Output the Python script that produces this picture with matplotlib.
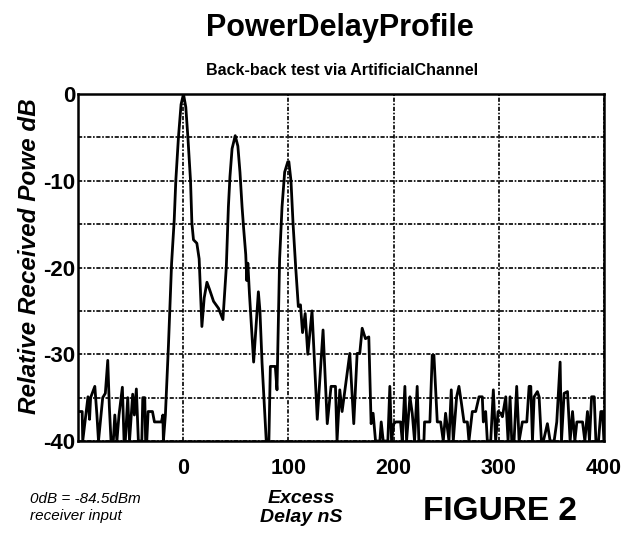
import matplotlib
matplotlib.use("Agg")
import matplotlib.pyplot as plt
from matplotlib.ticker import MultipleLocator

plt.rcParams['font.family'] = ['Liberation Sans', 'DejaVu Sans']
plt.rcParams['axes.unicode_minus'] = False

# excess delay (ns) and relative received power (dB)
delay_ns = [
    -100, -96, -95.5, -90.5, -89, -88, -84, -82, -80.5, -76.5, -74, -71.7, -70.2,
    -68.6, -66.4, -65, -63, -61, -57.8, -56.2, -55, -52.7, -51, -48, -46.4, -44.5,
    -42.6, -39.3, -38.4, -36.5, -35.7, -34.6, -33.3, -29.2, -27.3, -20.7, -19.3,
    -18.8, -16.9,
    -14, -11, -8.5, -7, -4.5, -2, 0.3, 2.5, 4.5, 7, 8.3, 9.8, 13, 15.2, 17.8, 20,
    22.6, 25, 28.9, 33.6, 37.8,
    41, 43, 44.5, 46.5, 49.5, 52, 54, 56, 57.5, 59.5, 60.5, 61.5, 63, 67, 71.5, 73,
    75, 79, 81.5, 82.9, 87.6, 89.2,
    91.7, 94, 96.5, 99.5, 100.5, 102.5, 104.5, 107, 109.5, 111.5, 113.5, 116, 118.5,
    122.5, 127.5, 133, 137, 140.6, 144.8, 146.3, 148.9, 151.1, 154.3, 158.4, 162.2,
    165.4, 167.9, 170.2, 173.3, 176.5, 178.7, 180.6, 182.9, 187, 188.3, 190.2, 194.6,
    196.5, 198.1, 200.3, 202.2, 206.7, 208.3, 210.8, 212.4, 215.6, 217.8, 220, 222.5,
    224.1, 228.9, 229.5, 234.6, 236.8, 238.4, 241.6, 244.8, 247.3, 249.5, 252.7,
    254.9, 256.8, 260, 262.2, 264.4, 267, 270.2, 271.7, 274.9, 278.1, 281.3, 284.4,
    285.4, 287.6, 289.2, 292.4, 294.9, 297.1, 299.4, 301.9, 303.5, 306.7, 308.9,
    310.8, 312.4, 314.6, 317.1, 319.4, 322.5, 326.7, 328.9, 330.5, 332.1, 333.7,
    336.8, 338.4, 340.6, 342.5, 346.3, 348.9, 352.7, 355.2, 358.4, 359.7, 362.2,
    365.4, 367.9, 370.2, 372.4, 374.3, 379.7, 381.9, 384.4, 386.3, 388.3, 390.8,
    392.4, 394.9, 397.1, 398.7, 400,
]
power_db = [
    -36.6, -36.6, -40, -34.9, -37.5, -35, -33.7, -37, -40, -35, -34.5, -30.7, -36,
    -40, -40, -37, -40, -37, -33.8, -40, -40, -35, -40, -34.6, -37, -34,
    -40, -40, -35, -35, -40, -40, -36.6, -36.6, -37.8, -37.8, -37,
    -40, -37,
    -29, -19.5, -14.5, -10, -5, -1.2, 0, -1.5, -5, -10, -14.9, -16.8, -17.2, -19, -26.8, -23.5,
    -21.7, -22.5, -23.9, -24.7, -26,
    -20, -13, -9.5, -6.3, -4.8, -6, -9, -13, -15.5, -18.5, -21.5, -19.5, -23, -30.9, -22.8, -25,
    -31, -40, -40, -31.4, -31.4, -34.1,
    -19, -13, -9, -7.8, -7.8, -10, -15, -20, -24.5, -24.3, -27.5, -25.3, -30,
    -25, -37.5, -27.2, -38, -33.7, -33.7, -40, -34.1, -36.6, -33.7, -29.9, -38,
    -29.9, -29.9, -27.0, -28.2, -28.0, -38, -36.8, -40, -40, -37.8, -40, -40,
    -33.7, -40, -38, -37.8, -37.8, -40, -33.7, -40, -34.9, -36.8, -40, -33.7,
    -40, -40, -37.8, -37.8, -30.1, -30.1, -37.8, -37.8, -40, -36.8, -40,
    -34.1, -40, -34.9, -33.7, -35.5, -37.8, -37.8, -40, -36.6, -36.6, -34.9, -34.9,
    -37.8, -36.6, -40, -40, -34.1, -40, -36.6, -36.8, -37.2, -34.9, -40,
    -34.9, -40, -40, -33.7, -40, -37.8, -37.8, -33.7, -33.7, -40, -34.9,
    -34.3, -34.9, -40, -40, -38, -40, -40, -37.8, -30.9, -40, -34.5,
    -34.3, -40, -36.6, -40, -37.8, -37.8, -40, -36.6, -40, -34.9, -34.9,
    -40, -40, -36.6, -36.6, -40,
]
x_ticks = [0, 100, 200, 300, 400]
y_ticks = [-40, -30, -20, -10, 0]

fig = plt.figure(figsize=(6.33, 5.41), dpi=100)
ax = fig.add_axes([0.1232, 0.1848, 0.8308, 0.6414])

ax.plot(delay_ns, power_db, color='black', linewidth=2.0, zorder=3)

ax.set_xlim(-100, 400)
ax.set_ylim(-40, 0)
ax.set_xticks(x_ticks)
ax.set_yticks(y_ticks)
ax.yaxis.set_minor_locator(MultipleLocator(5))
ax.grid(True, which='both', color='black', linestyle=(0, (2.5, 1, 1, 1)), linewidth=1.2)
ax.tick_params(axis='both', which='both', length=0)
ax.tick_params(axis='x', pad=12, labelsize=15.5)
ax.tick_params(axis='y', pad=2, labelsize=16)
for lab in ax.get_xticklabels() + ax.get_yticklabels():
    lab.set_fontweight('bold')
for sp in ax.spines.values():
    sp.set_linewidth(1.8)
    sp.set_color('black')

fig.text(0.537, 0.948, 'PowerDelayProfile', ha='center', va='center',
         fontsize=22, fontweight='bold')
fig.text(0.54, 0.869, 'Back-back test via ArtificialChannel', ha='center', va='center',
         fontsize=11.5, fontweight='bold')
fig.text(0.047, 0.527, 'Relative Received Powe dB', rotation=90, ha='center', va='center',
         fontsize=17.5, fontweight='bold', style='italic')
fig.text(0.047, 0.0906, '0dB = -84.5dBm\nreceiver input', ha='left', va='top',
         fontsize=11, style='italic', linespacing=1.3)
fig.text(0.476, 0.061, 'Excess\nDelay nS', ha='center', va='center',
         fontsize=14, fontweight='bold', style='italic', linespacing=1.15)
fig.text(0.668, 0.055, 'FIGURE 2', ha='left', va='center',
         fontsize=24, fontweight='bold')

fig.savefig('out.png', dpi=100)
